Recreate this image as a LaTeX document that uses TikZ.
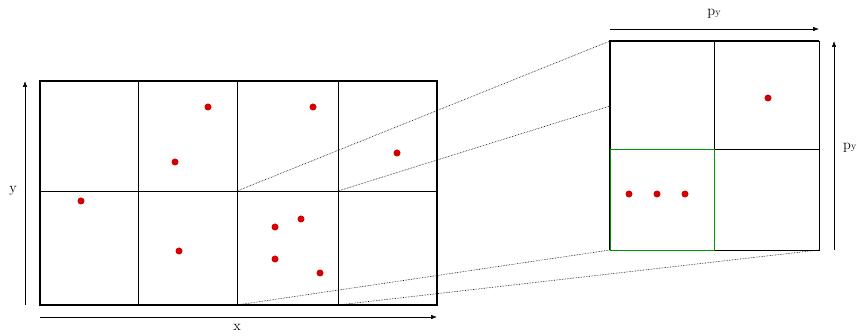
\documentclass[tikz,border=0pt]{standalone}
\usetikzlibrary{arrows.meta}
\definecolor{dotred}{RGB}{210,0,0}
\definecolor{cellgreen}{RGB}{0,150,0}
\begin{document}
\begin{tikzpicture}[x=1pt,y=-1pt,
  thickborder/.style={line width=1.3pt},
  gridline/.style={line width=0.7pt},
  zoomline/.style={densely dotted, line width=0.6pt},
  axis/.style={line width=0.6pt,-{Latex[length=6pt,width=4.5pt]}},
  pt/.style={circle,fill=dotred,inner sep=0pt,minimum size=7pt},
  lbl/.style={font=\Large}]
\useasboundingbox (0,0) rectangle (857,336);
% left grid
\coordinate (L1) at (40,81);
\coordinate (L2) at (437,305);
\coordinate (c1t) at (237,191);
\coordinate (c2t) at (338,191);
\coordinate (c1b) at (237,305);
\coordinate (c2b) at (338,305);
\draw[gridline] (138,81) -- (138,305) (237,81) -- (237,305) (338,81) -- (338,305) (40,191) -- (437,191);
\draw[thickborder] (L1) rectangle (L2);
% right grid
\coordinate (R1) at (610,41);
\coordinate (R2) at (819,250);
\coordinate (Rmid) at (610,106);
\coordinate (Rbl) at (610,250);
\draw[gridline] (714,41) -- (714,250) (610,149) -- (819,149);
\draw[gridline] (819,41) -- (R2) -- (Rbl);
\draw[thickborder] (Rbl) -- (R1) -- (819,41);
\draw[gridline,cellgreen,line width=0.9pt] (610,149) rectangle (714,250);
% zoom lines
\draw[zoomline] (c1t) -- (R1);
\draw[zoomline] (c2t) -- (Rmid);
\draw[zoomline] (c1b) -- (Rbl);
\draw[zoomline] (c2b) -- (R2);
% axes
\coordinate (xa) at (40,317); \coordinate (xb) at (437,317);
\draw[axis] (xa) -- (xb);
\node[lbl] (xl) at (237,327) {x};
\coordinate (ya) at (25,305); \coordinate (yb) at (25,81);
\draw[axis] (ya) -- (yb);
\node[lbl] (yl) at (13,191) {y};
\coordinate (pa) at (610,29); \coordinate (pb) at (819,29);
\draw[axis] (pa) -- (pb);
\node[lbl] (pyl) at (714,14) {p{\normalsize y}};
\coordinate (qa) at (834,250); \coordinate (qb) at (834,41);
\draw[axis] (qa) -- (qb);
\node[lbl,anchor=west,inner sep=0pt] (pxl) at (843,148) {p{\normalsize y}};
% points
\foreach \n/\x/\y in {a/208/107,b/313/107,c/175/162,d/397/153,e/81/201,f/179/251,g/301/219,h/275/227,i/275/259,j/320/273,k/768/98,l/629/194,m/657/194,n/685/194}
  \node[pt] (p\n) at (\x,\y) {};
\end{tikzpicture}
\end{document}
